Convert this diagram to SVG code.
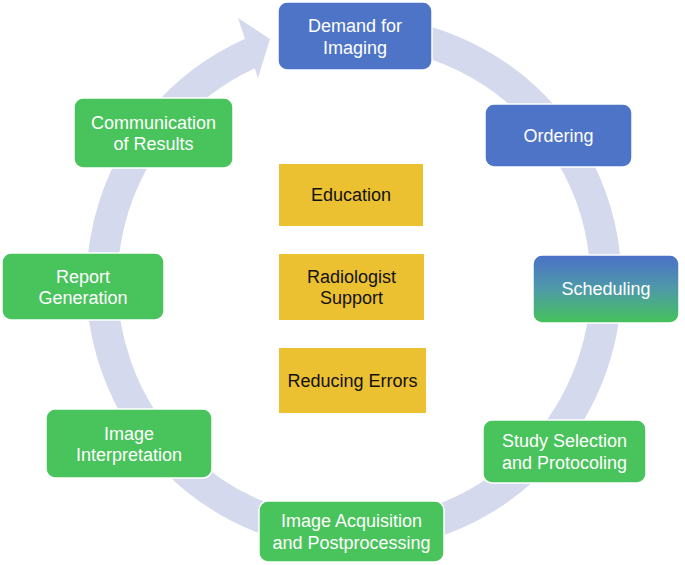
<svg xmlns="http://www.w3.org/2000/svg" width="685" height="565" viewBox="0 0 685 565">
<defs>
<linearGradient id="schedGrad" x1="0" y1="0" x2="0" y2="1">
<stop offset="0" stop-color="#4a70c8"/>
<stop offset="0.5" stop-color="#4e9aa8"/>
<stop offset="1" stop-color="#46c25a"/>
</linearGradient>
<style>
.blue{fill:#4e74c8;}
.green{fill:#49c35b;}
.yellow{fill:#ecc131;}
.box{stroke:#ffffff;stroke-width:1.5;}
.wt{font-family:"Liberation Sans",Arial,sans-serif;font-size:18px;fill:#ffffff;text-anchor:middle;}
.bt{font-family:"Liberation Sans",Arial,sans-serif;font-size:18px;fill:#111111;text-anchor:middle;}
.ring{fill:none;stroke:#d5d9ed;stroke-width:31;}
</style>
</defs>
<rect width="685" height="565" fill="#ffffff"/>
<g id="connectors">
<path class="ring" d="M 354 31 A 252 252 0 1 1 251.5 52.8"/>
<polygon points="238,18 270,39 258,78" fill="#d5d9ed"/>
</g>
<g id="demand">
<rect class="blue box" x="278" y="2" width="154" height="68" rx="9"/>
<text class="wt" x="355" y="32">Demand for</text>
<text class="wt" x="355" y="53.5">Imaging</text>
</g>
<g id="ordering">
<rect class="blue box" x="485" y="104" width="147" height="63" rx="9"/>
<text class="wt" x="558.5" y="141.5">Ordering</text>
</g>
<g id="scheduling">
<rect class="box" fill="url(#schedGrad)" x="533" y="255" width="146" height="68" rx="9"/>
<text class="wt" x="606" y="295">Scheduling</text>
</g>
<g id="study">
<rect class="green box" x="483" y="420" width="163" height="63" rx="9"/>
<text class="wt" x="564.5" y="447">Study Selection</text>
<text class="wt" x="564.5" y="468.5">and Protocoling</text>
</g>
<g id="acquisition">
<rect class="green box" x="259" y="501" width="185" height="61" rx="9"/>
<text class="wt" x="351.5" y="527">Image Acquisition</text>
<text class="wt" x="351.5" y="548.5">and Postprocessing</text>
</g>
<g id="interpretation">
<rect class="green box" x="46" y="409" width="166" height="69" rx="9"/>
<text class="wt" x="129" y="439.5">Image</text>
<text class="wt" x="129" y="461">Interpretation</text>
</g>
<g id="report">
<rect class="green box" x="2" y="253" width="162" height="67" rx="9"/>
<text class="wt" x="83" y="282.5">Report</text>
<text class="wt" x="83" y="304">Generation</text>
</g>
<g id="communication">
<rect class="green box" x="74" y="98" width="159" height="70" rx="9"/>
<text class="wt" x="153.5" y="128.5">Communication</text>
<text class="wt" x="153.5" y="150">of Results</text>
</g>
<g id="education">
<rect class="yellow" x="279" y="164" width="144" height="62"/>
<text class="bt" x="351" y="201">Education</text>
</g>
<g id="radiologist">
<rect class="yellow" x="279" y="254" width="145" height="66"/>
<text class="bt" x="351.5" y="282.5">Radiologist</text>
<text class="bt" x="351.5" y="304">Support</text>
</g>
<g id="reducing">
<rect class="yellow" x="279" y="348" width="147" height="65"/>
<text class="bt" x="352.5" y="386.5">Reducing Errors</text>
</g>
</svg>
